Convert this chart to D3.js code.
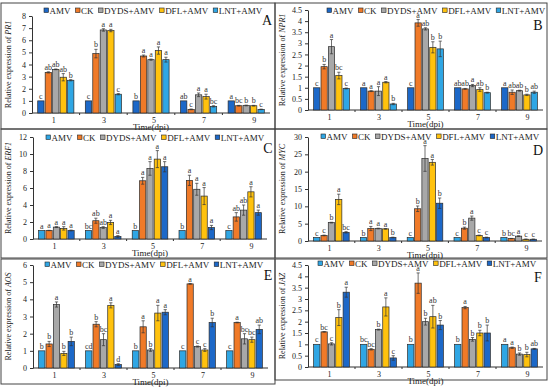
<!DOCTYPE html>
<html>
<head>
<meta charset="utf-8">
<script src="https://cdn.jsdelivr.net/npm/d3@7"></script>
<style>
  body { margin: 0; background: #fff; }
  svg { display: block; font-family: "Liberation Serif", "DejaVu Serif", serif; }
</style>
</head>
<body>
<div id="chart"></div>
<script>
// categories
const days = ["1", "3", "5", "7", "9"];
const treatments = ["AMV", "CK", "DYDS+AMV", "DFL+AMV", "LNT+AMV"];
const genes = ["PR1", "NPR1", "ERF1", "MYC", "AOS", "JAZ"];
const panelLetters = ["A", "B", "C", "D", "E", "F"];
const yMaxes = [8, 4.5, 12, 30, 6, 4.5];
const ySteps = [1, 0.5, 2, 5, 1, 0.5];

// means per day (rows) x treatment (cols)
const pr1Mean = [[1, 3.35, 3.6, 2.95, 2.7], [1, 4.9, 6.85, 6.8, 1.55], [1, 4.7, 4.4, 5.15, 4.4], [1, 0.3, 1.5, 1.35, 0.55], [1, 0.6, 0.62, 0.6, 0.3]];
const pr1Err  = [[0, 0.05, 0.03, 0.3, 0.05], [0, 0.35, 0.1, 0.1, 0.05], [0, 0.08, 0.05, 0.3, 0.2], [0, 0.03, 0.15, 0.2, 0.05], [0, 0.03, 0.03, 0.03, 0.02]];
const pr1Sig  = [["c", "ab", "ab", "ab", "b"], ["c", "b", "a", "a", "c"], ["b", "a", "a", "a", "a"], ["ab", "c", "a", "a", "bc"], ["a", "bc", "b", "b", "c"]];

const npr1Mean = [[1, 1.95, 2.85, 1.55, 0.97], [1, 0.85, 0.85, 1.25, 0.27], [1, 3.92, 3.65, 2.82, 2.75], [1, 0.95, 1.1, 0.92, 0.78], [1, 0.8, 0.87, 0.68, 0.8]];
const npr1Err  = [[0, 0.1, 0.32, 0.15, 0.02], [0, 0.02, 0.2, 0.03, 0.03], [0, 0.15, 0.05, 0.25, 0.35], [0, 0.02, 0.05, 0.08, 0.02], [0, 0.1, 0.02, 0.03, 0.05]];
const npr1Sig  = [["c", "b", "a", "bc", "c"], ["a", "a", "a", "a", "b"], ["c", "a", "ab", "b", "b"], ["ab", "ab", "a", "ab", "b"], ["a", "ab", "ab", "b", "ab"]];

const erf1Mean = [[1, 1, 1.4, 1.25, 1], [1, 2.15, 1.35, 1.95, 0.3], [1, 6.85, 8.3, 9.4, 8.5], [1, 6.9, 5.85, 5.05, 1.35], [1, 2.6, 3.4, 5.55, 3.1]];
const erf1Err  = [[0, 0.02, 0.05, 0.2, 0.05], [0, 0.3, 0.1, 0.25, 0.1], [0, 0.4, 0.8, 1.0, 0.6], [0, 0.6, 0.7, 1.0, 0.25], [0, 0.5, 0.6, 0.6, 0.3]];
const erf1Sig  = [["a", "a", "a", "a", "a"], ["bc", "ab", "ab", "a", "a"], ["b", "a", "a", "a", "a"], ["b", "a", "a", "a", "a"], ["c", "ab", "ab", "a", "a"]];

const mycMean = [[1, 1.6, 5.3, 12.0, 2.5], [1, 3.6, 3.6, 3.5, 1.0], [1, 9.3, 23.8, 22.7, 10.9], [1, 3.7, 6.6, 1.6, 1.0], [1, 0.7, 1.4, 0.5, 0.5]];
const mycErr  = [[0, 0.1, 0.1, 1.5, 0.2], [0, 0.6, 0.1, 0.1, 0.1], [0, 0.8, 3.7, 0.8, 1.5], [0, 0.3, 0.6, 0.1, 0.1], [0, 0.05, 0.1, 0.05, 0.05]];
const mycSig  = [["c", "c", "b", "a", "bc"], ["b", "a", "a", "a", "b"], ["c", "b", "a", "a", "b"], ["c", "b", "a", "c", "c"], ["b", "bc", "a", "c", "c"]];

const aosMean = [[1, 1.4, 3.7, 0.85, 1.55], [1, 2.55, 1.65, 3.65, 0.2], [1, 2.4, 1.05, 3.2, 3.25], [1, 4.9, 1.25, 1.05, 2.65], [1, 2.65, 1.7, 1.65, 2.25]];
const aosErr  = [[0, 0.15, 0.15, 0.12, 0.25], [0, 0.15, 0.35, 0.15, 0.05], [0, 0.35, 0.08, 0.45, 0.15], [0, 0.02, 0.03, 0.08, 0.25], [0, 0.02, 0.3, 0.15, 0.25]];
const aosSig  = [["b", "b", "a", "b", "b"], ["cd", "b", "bc", "a", "d"], ["b", "a", "b", "a", "a"], ["c", "a", "c", "c", "b"], ["c", "a", "bc", "bc", "ab"]];

const jazMean = [[1, 1.55, 1.02, 2.18, 3.3], [1, 0.78, 1.65, 2.65, 0.4], [1, 3.7, 2.0, 2.22, 1.85], [1, 2.62, 1.22, 1.5, 1.5], [1, 0.85, 0.57, 0.55, 0.8]];
const jazErr  = [[0, 0.01, 0.05, 0.35, 0.22], [0, 0.03, 0.02, 0.4, 0.1], [0, 0.45, 0.15, 0.5, 0.2], [0, 0.05, 0.08, 0.12, 0.35], [0, 0.03, 0.05, 0.1, 0.02]];
const jazSig  = [["c", "bc", "c", "b", "a"], ["bc", "bc", "b", "a", "c"], ["b", "a", "b", "ab", "b"], ["b", "a", "b", "b", "b"], ["a", "a", "b", "b", "ab"]];

const means = [pr1Mean, npr1Mean, erf1Mean, mycMean, aosMean, jazMean];
const errs = [pr1Err, npr1Err, erf1Err, mycErr, aosErr, jazErr];
const sigs = [pr1Sig, npr1Sig, erf1Sig, mycSig, aosSig, jazSig];

// colours: A,B use dark blue for AMV; C-F swap the blues
const darkBlue = "#1c68c8", lightBlue = "#2fa6e4";
const paletteAB = [darkBlue, "#f07a28", "#a8a8a8", "#ffc20e", lightBlue];
const paletteCF = [lightBlue, "#f07a28", "#a8a8a8", "#ffc20e", darkBlue];

// layout of each panel (frame + plot area)
const layout = [
  {frame: [1, 3, 275, 129],  plot: [32, 16, 270, 113],  legendY: 11,  legendX: 44,  letter: [267, 25]},
  {frame: [275, 3, 547, 129], plot: [308, 10, 543, 110], legendY: 11,  legendX: 327, letter: [538, 30]},
  {frame: [1, 129, 275, 258], plot: [33, 137, 267, 239], legendY: 138, legendX: 46,  letter: [268, 153]},
  {frame: [275, 129, 547, 258], plot: [308, 137, 542, 241], legendY: 137, legendX: 321, letter: [538, 155]},
  {frame: [1, 259, 275, 384], plot: [33, 265, 268, 368], legendY: 265, legendX: 45,  letter: [268, 280]},
  {frame: [275, 259, 547, 380], plot: [308, 265, 543, 367], legendY: 264, legendX: 318, letter: [538, 282]}
];

const width = 550, height = 390;
const svg = d3.select("#chart").append("svg")
  .attr("width", width)
  .attr("height", height);

genes.forEach((gene, p) => {
  const L = layout[p];
  const [left, top, right, bottom] = L.plot;
  const colours = p < 2 ? paletteAB : paletteCF;
  const g = svg.append("g");

  // panel frame
  g.append("rect")
    .attr("x", L.frame[0]).attr("y", L.frame[1])
    .attr("width", L.frame[2] - L.frame[0]).attr("height", L.frame[3] - L.frame[1])
    .attr("fill", "none").attr("stroke", "#444").attr("stroke-width", 1);

  const x = d3.scaleBand().domain(days).range([left, right]).paddingInner(0.24).paddingOuter(0.12);
  const xs = d3.scaleBand().domain(treatments).range([0, x.bandwidth()]).paddingInner(0.15);
  const y = d3.scaleLinear().domain([0, yMaxes[p]]).range([bottom, top]);

  // y axis
  const ticks = d3.range(0, yMaxes[p] + ySteps[p] / 2, ySteps[p]);
  const yAxis = g.append("g")
    .attr("transform", `translate(${left},0)`)
    .call(d3.axisLeft(y).tickValues(ticks).tickSize(3).tickSizeOuter(0).tickFormat(d => String(+d.toFixed(2))));
  yAxis.select(".domain").attr("stroke", "#333");
  yAxis.selectAll(".tick line").attr("stroke", "#333");
  yAxis.selectAll(".tick text")
    .attr("font-family", "Liberation Serif, serif")
    .attr("font-size", 8).attr("fill", "#222").attr("x", -6);

  // x axis line with ticks between categories
  g.append("line")
    .attr("x1", left).attr("x2", right)
    .attr("y1", bottom).attr("y2", bottom)
    .attr("stroke", "#333");
  const step = x.step();
  g.selectAll(".xtick").data(days.slice(1)).join("line")
    .attr("x1", d => x(d) - step * x.paddingInner() / 2)
    .attr("x2", d => x(d) - step * x.paddingInner() / 2)
    .attr("y1", bottom).attr("y2", bottom + 2)
    .attr("stroke", "#333");

  const labelX = d3.scalePoint().domain(days)
    .range([x(days[0]) + x.bandwidth() / 2 - 2, x(days[4]) + x.bandwidth() / 2 + 8]);
  g.selectAll(".xlab").data(days).join("text")
    .attr("x", d => labelX(d))
    .attr("y", bottom + 9.5)
    .attr("text-anchor", "middle")
    .attr("font-size", 8).attr("fill", "#222")
    .text(d => d);

  g.append("text")
    .attr("x", (left + right) / 2)
    .attr("y", bottom + 17)
    .attr("text-anchor", "middle")
    .attr("font-size", 9).attr("fill", "#222")
    .text("Time(dpi)");

  // y label
  const yl = g.append("text")
    .attr("transform", `translate(${L.frame[0] + 10},${(top + bottom) / 2}) rotate(-90)`)
    .attr("text-anchor", "middle")
    .attr("font-size", 8).attr("fill", "#222");
  yl.append("tspan").text("Relative expression of ");
  yl.append("tspan").attr("font-style", "italic").text(gene);

  // bars
  const rows = [];
  days.forEach((d, i) => treatments.forEach((t, j) => {
    rows.push({day: d, t: t, j: j, v: means[p][i][j], e: errs[p][i][j], s: sigs[p][i][j]});
  }));

  const bx = r => x(r.day) + xs(r.t);
  g.selectAll(".bar").data(rows).join("rect")
    .attr("x", bx)
    .attr("y", r => y(r.v))
    .attr("width", xs.bandwidth())
    .attr("height", r => bottom - y(r.v))
    .attr("fill", r => colours[r.j])
    .attr("stroke", "#2a2a2a").attr("stroke-width", 0.7);

  const eb = rows.filter(r => r.e > 0);
  const cx = r => bx(r) + xs.bandwidth() / 2;
  g.selectAll(".err").data(eb).join("line")
    .attr("x1", cx).attr("x2", cx)
    .attr("y1", r => y(r.v + r.e)).attr("y2", r => y(Math.max(0, r.v - r.e)))
    .attr("stroke", "#333").attr("stroke-width", 0.7);
  g.selectAll(".capT").data(eb).join("line")
    .attr("x1", r => cx(r) - 1.6).attr("x2", r => cx(r) + 1.6)
    .attr("y1", r => y(r.v + r.e)).attr("y2", r => y(r.v + r.e))
    .attr("stroke", "#333").attr("stroke-width", 0.7);
  g.selectAll(".capB").data(eb).join("line")
    .attr("x1", r => cx(r) - 1.6).attr("x2", r => cx(r) + 1.6)
    .attr("y1", r => y(Math.max(0, r.v - r.e))).attr("y2", r => y(Math.max(0, r.v - r.e)))
    .attr("stroke", "#333").attr("stroke-width", 0.7);

  // significance letters
  g.selectAll(".sig").data(rows).join("text")
    .attr("x", cx)
    .attr("y", r => y(r.v + r.e) - 2)
    .attr("text-anchor", "middle")
    .attr("font-size", 8).attr("fill", "#333")
    .text(r => r.s);

  // legend
  let lx = L.legendX;
  treatments.forEach((t, j) => {
    g.append("rect")
      .attr("x", lx).attr("y", L.legendY - 3)
      .attr("width", 4.5).attr("height", 4.5)
      .attr("fill", colours[j]).attr("stroke", "#222").attr("stroke-width", 0.6);
    const tx = g.append("text")
      .attr("x", lx + 5.5).attr("y", L.legendY + 2.5)
      .attr("font-size", 9).attr("fill", "#222")
      .text(t);
    lx += 5.5 + tx.node().getComputedTextLength() + 5;
  });

  // panel letter
  g.append("text")
    .attr("x", L.letter[0]).attr("y", L.letter[1])
    .attr("text-anchor", "middle")
    .attr("font-size", 14).attr("fill", "#111")
    .text(panelLetters[p]);
});
</script>
</body>
</html>
